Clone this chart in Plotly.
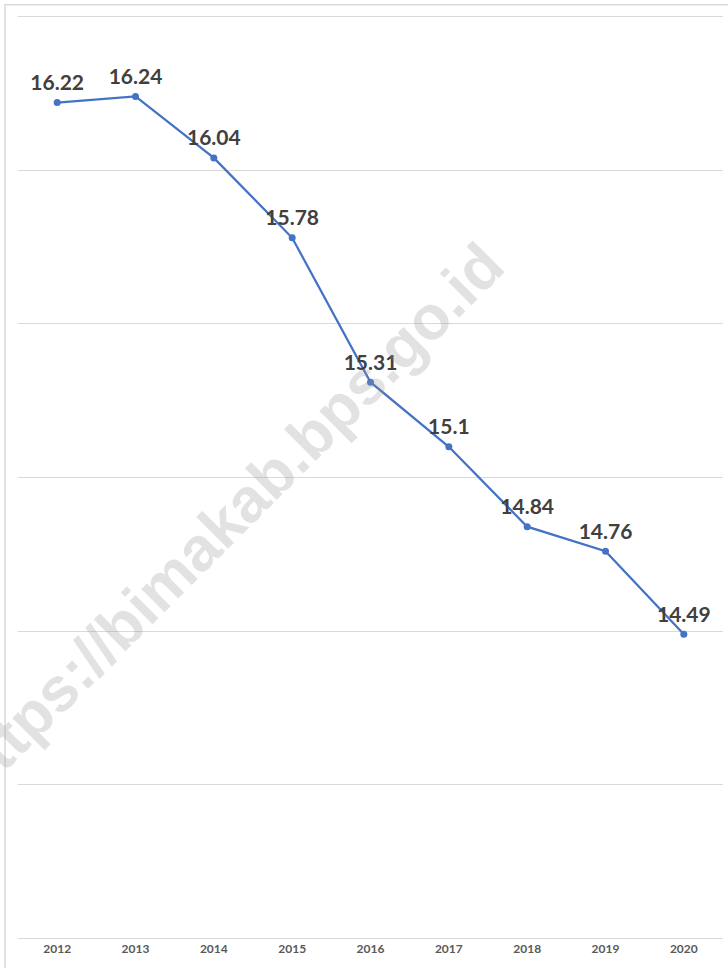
import plotly.graph_objects as go

# data
years = ["2012", "2013", "2014", "2015", "2016", "2017", "2018", "2019", "2020"]
values = [16.22, 16.24, 16.04, 15.78, 15.31, 15.1, 14.84, 14.76, 14.49]
labels = ["16.22", "16.24", "16.04", "15.78", "15.31", "15.1", "14.84", "14.76", "14.49"]
grid_vals = [13.5, 14, 14.5, 15, 15.5, 16, 16.5]

LINE_COLOR = "#4472C4"
GRID_COLOR = "#d9d9d9"

fig = go.Figure()

fig.add_trace(go.Scatter(
    x=years,
    y=values,
    mode="lines+markers",
    line=dict(color=LINE_COLOR, width=2.25),
    marker=dict(color=LINE_COLOR, size=7),
    showlegend=False,
    hoverinfo="skip",
))

# data labels: invisible bigger markers push the text a bit higher
fig.add_trace(go.Scatter(
    x=years,
    y=values,
    mode="markers+text",
    text=labels,
    textposition="top center",
    textfont=dict(family="Lato", size=21, color="#404040", weight="bold"),
    marker=dict(size=10, opacity=0),
    showlegend=False,
    cliponaxis=False,
    hoverinfo="skip",
))

# watermark
fig.add_annotation(
    text="https://bimakab.bps.go.id",
    xref="paper", yref="paper",
    x=0.296, y=0.455,
    xanchor="center", yanchor="middle",
    textangle=-45,
    showarrow=False,
    font=dict(family="Liberation Sans", size=62, color="rgba(150,150,150,0.28)", weight="bold"),
)

# outer chart border (only top/left edges visible)
fig.add_shape(
    type="rect", xref="paper", yref="paper",
    x0=-0.0184, x1=1.05, y0=-0.1, y1=1.011,
    line=dict(color=GRID_COLOR, width=1.5),
    layer="below",
)

fig.update_layout(
    width=728,
    height=968,
    margin=dict(l=18, r=5, t=15, b=28),
    paper_bgcolor="white",
    plot_bgcolor="white",
    xaxis=dict(
        type="category",
        range=[-0.5, 8.5],
        showgrid=False,
        showline=False,
        ticks="",
        tickfont=dict(family="Lato", size=12, color="#595959", weight="bold"),
    ),
    yaxis=dict(
        range=[13.495, 16.505],
        tickvals=grid_vals,
        showgrid=True,
        gridcolor=GRID_COLOR,
        gridwidth=1,
        showticklabels=False,
        zeroline=False,
        showline=False,
    ),
)

fig.write_html(
    "out.html",
    config={"displayModeBar": False},
    post_script="document.body.style.margin='0';",
)
